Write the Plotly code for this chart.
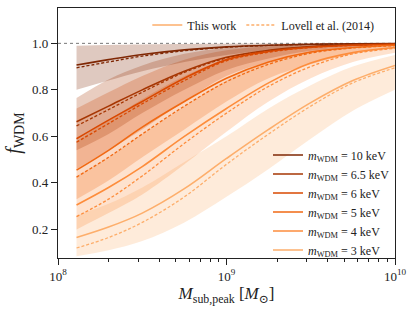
import plotly.graph_objects as go

log_mass = [8.11, 8.3, 8.5, 8.75, 9.0, 9.25, 9.5, 9.75, 10.0]
masses_kev = ["10", "6.5", "6", "5", "4", "3"]
colors = ["#7f2704", "#a63603", "#d94801", "#f16913", "#fd8d3c", "#fdae6b"]

this_work = {
    "10":  [0.907, 0.93, 0.952, 0.972, 0.985, 0.992, 0.996, 0.998, 0.999],
    "6.5": [0.663, 0.73, 0.80, 0.88, 0.94, 0.97, 0.986, 0.994, 0.997],
    "6":   [0.59, 0.67, 0.75, 0.85, 0.93, 0.965, 0.983, 0.992, 0.996],
    "5":   [0.455, 0.54, 0.64, 0.75, 0.85, 0.92, 0.963, 0.982, 0.992],
    "4":   [0.305, 0.38, 0.47, 0.60, 0.72, 0.83, 0.915, 0.96, 0.982],
    "3":   [0.165, 0.21, 0.27, 0.375, 0.505, 0.63, 0.745, 0.84, 0.905],
}
lovell = {
    "10":  [0.895, 0.92, 0.945, 0.968, 0.983, 0.991, 0.996, 0.998, 0.999],
    "6.5": [0.645, 0.715, 0.79, 0.875, 0.937, 0.968, 0.985, 0.993, 0.997],
    "6":   [0.575, 0.655, 0.74, 0.84, 0.925, 0.962, 0.982, 0.991, 0.996],
    "5":   [0.425, 0.51, 0.61, 0.73, 0.835, 0.91, 0.958, 0.98, 0.99],
    "4":   [0.255, 0.33, 0.43, 0.57, 0.70, 0.815, 0.90, 0.955, 0.978],
    "3":   [0.12, 0.165, 0.23, 0.34, 0.48, 0.61, 0.73, 0.83, 0.895],
}
band_low = {
    "10":  [0.80, 0.84, 0.88, 0.92, 0.95, 0.97, 0.985, 0.992, 0.996],
    "6.5": [0.54, 0.61, 0.70, 0.80, 0.885, 0.935, 0.968, 0.985, 0.993],
    "6":   [0.46, 0.54, 0.63, 0.75, 0.86, 0.92, 0.96, 0.98, 0.99],
    "5":   [0.33, 0.41, 0.51, 0.63, 0.75, 0.85, 0.91, 0.955, 0.978],
    "4":   [0.20, 0.27, 0.35, 0.48, 0.62, 0.75, 0.85, 0.92, 0.96],
    "3":   [0.085, 0.11, 0.15, 0.23, 0.34, 0.46, 0.59, 0.71, 0.80],
}
band_high = {
    "10":  [0.99, 0.993, 0.995, 0.997, 0.998, 0.999, 0.9995, 0.9998, 1.0],
    "6.5": [0.765, 0.845, 0.905, 0.955, 0.98, 0.992, 0.997, 0.999, 0.9995],
    "6":   [0.72, 0.79, 0.86, 0.93, 0.97, 0.988, 0.995, 0.998, 0.999],
    "5":   [0.58, 0.67, 0.76, 0.86, 0.93, 0.97, 0.988, 0.995, 0.998],
    "4":   [0.43, 0.51, 0.61, 0.73, 0.84, 0.92, 0.965, 0.985, 0.995],
    "3":   [0.26, 0.31, 0.38, 0.49, 0.60, 0.72, 0.82, 0.90, 0.95],
}

x_ticks = [1e8, 1e9, 1e10]
x_tick_labels = ["10<sup>8</sup>", "10<sup>9</sup>", "10<sup>10</sup>"]
x_minor_ticks = [k * 1e8 for k in range(2, 10)] + [k * 1e9 for k in range(2, 10)]
y_ticks = [0.2, 0.4, 0.6, 0.8, 1.0]

mass = [10 ** v for v in log_mass]


def rgba(hx, a):
    h = hx.lstrip("#")
    r, g, b = int(h[0:2], 16), int(h[2:4], 16), int(h[4:6], 16)
    return f"rgba({r},{g},{b},{a})"


fig = go.Figure()

# uncertainty bands
for m, c in zip(masses_kev[::-1], colors[::-1]):
    fig.add_trace(go.Scatter(x=mass, y=band_low[m], mode="lines", line=dict(width=0, shape="spline"),
                             showlegend=False, hoverinfo="skip"))
    fig.add_trace(go.Scatter(x=mass, y=band_high[m], mode="lines", line=dict(width=0, shape="spline"),
                             fill="tonexty", fillcolor=rgba(c, 0.25), showlegend=False, hoverinfo="skip"))

# reference line at 1
fig.add_trace(go.Scatter(x=[1e8, 1e10], y=[1.0, 1.0], mode="lines",
                         line=dict(color="#777777", width=1, dash="dot"), showlegend=False, hoverinfo="skip"))

# Lovell dashed
for m, c in zip(masses_kev, colors):
    fig.add_trace(go.Scatter(x=mass, y=lovell[m], mode="lines",
                             line=dict(color=c, width=1.3, dash="3px,2px", shape="spline"),
                             showlegend=False))

# this work solid
for m, c in zip(masses_kev, colors):
    fig.add_trace(go.Scatter(x=mass, y=this_work[m], mode="lines",
                             line=dict(color=c, width=1.6, shape="spline"),
                             name=f"<i>m</i><sub>WDM</sub> = {m} keV", legend="legend2"))

# style legend
fig.add_trace(go.Scatter(x=[None], y=[None], mode="lines", line=dict(color="#fdae6b", width=1.6),
                         name="This work", legend="legend"))
fig.add_trace(go.Scatter(x=[None], y=[None], mode="lines", line=dict(color="#fdae6b", width=1.3, dash="3px,2px"),
                         name="Lovell et al. (2014)", legend="legend"))

font_family = "Liberation Serif, DejaVu Serif, serif"
fig.update_layout(
    width=415, height=312,
    margin=dict(l=58, r=20, t=8, b=54),
    paper_bgcolor="white", plot_bgcolor="white",
    font=dict(family=font_family, size=13, color="#222222"),
    xaxis=dict(type="log", range=[8, 10], tickvals=x_ticks, ticktext=x_tick_labels,
               ticks="outside", ticklen=6, tickwidth=1, tickcolor="#222",
               minor=dict(tickvals=x_minor_ticks, ticks="outside", ticklen=3, tickcolor="#222", showgrid=False),
               showline=True, linecolor="#222", linewidth=1.2, mirror=True, showgrid=False, zeroline=False,
               title=dict(text="<i>M</i><sub>sub,peak</sub> [<i>M</i><sub>⊙</sub>]", font=dict(size=17), standoff=4),
               tickfont=dict(size=13)),
    yaxis=dict(range=[0.077, 1.152], tickvals=y_ticks, tickformat=".1f",
               ticks="outside", ticklen=6, tickwidth=1, tickcolor="#222",
               showline=True, linecolor="#222", linewidth=1.2, mirror=True, showgrid=False, zeroline=False,
               title=dict(text="<i>f</i><sub>WDM</sub>", font=dict(size=20), standoff=6),
               tickfont=dict(size=13)),
    legend=dict(orientation="h", x=0.265, y=0.99, xanchor="left", yanchor="top", traceorder="normal",
                bgcolor="rgba(0,0,0,0)", font=dict(size=12), itemwidth=30),
    legend2=dict(x=1.0, y=0.47, xanchor="right", yanchor="top", traceorder="normal",
                 bgcolor="rgba(0,0,0,0)", font=dict(size=12), itemwidth=30, tracegroupgap=0),
)

fig.write_html("out.html", config={"displayModeBar": False},
               post_script="document.body.style.margin='0';")
